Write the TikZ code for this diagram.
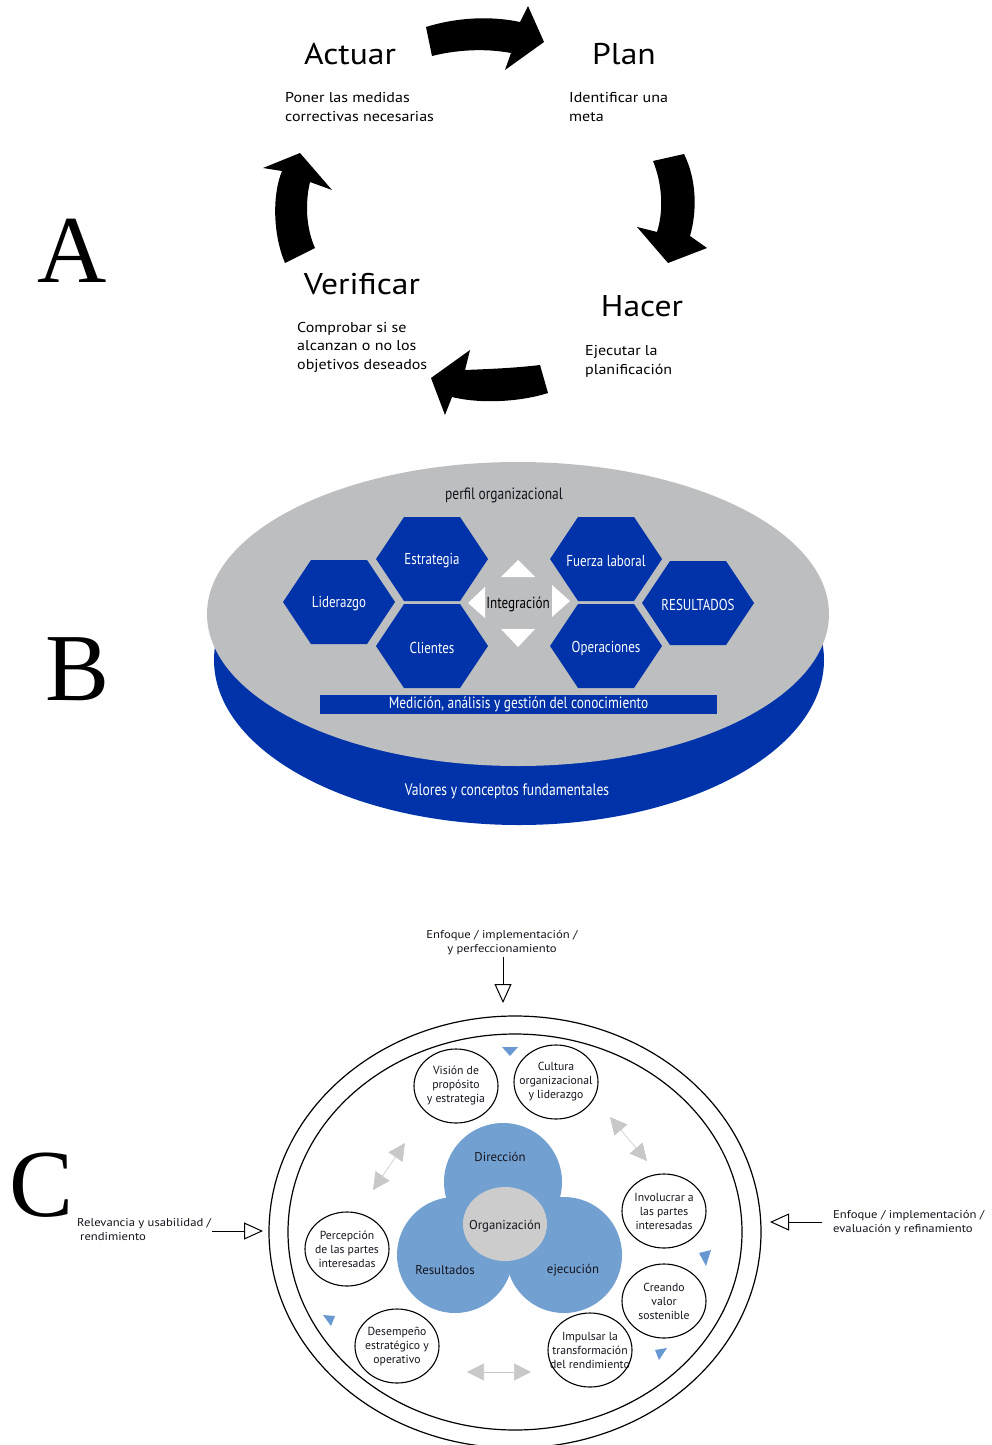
\documentclass[tikz,border=0pt]{standalone}
\usepackage{fontspec}
\setmainfont{PT Sans}
\newfontfamily\condfont{PT Sans}[FakeStretch=0.82]
\newfontfamily\wideface{PT Sans}[FakeStretch=1.12]
\newfontfamily\letterfont{Liberation Serif}
\usetikzlibrary{arrows.meta}

\definecolor{hexblue}{RGB}{0,51,170}
\definecolor{discgrey}{RGB}{189,190,192}
\definecolor{lobeblue}{RGB}{114,160,208}
\definecolor{coregrey}{RGB}{204,204,204}
\definecolor{flowgrey}{RGB}{200,200,200}
\definecolor{flowblue}{RGB}{104,152,210}
\definecolor{inktext}{RGB}{20,20,30}

% one blue hexagon cell with its caption
\newcommand\hexcell[4]{%
  \fill[hexblue,shift={(#2,#3)}] (-56,0) -- (-28,-42) -- (28,-42) -- (56,0) -- (28,42) -- (-28,42) -- cycle;
  \node[hextext] (#1) at (#2,#3+2) {#4};}
% one outlined topic bubble with its caption
\newcommand\bubblecell[4]{%
  \draw[line width=1.1pt] (#2,#3) ellipse [x radius=42pt, y radius=37pt];
  \node[bubble] (#1) at (#2,#3) {#4};}

\begin{document}
\begin{tikzpicture}[x=1pt,y=-1pt,
  letter/.style={font=\letterfont\fontsize{96}{96}\selectfont,anchor=base,inner sep=0},
  stage/.style={font=\wideface\fontsize{30}{30}\selectfont,anchor=base,inner sep=0},
  note/.style={font=\wideface\fontsize{14.3}{18.5}\selectfont,anchor=base west,align=left,inner sep=0},
  hextext/.style={font=\condfont\fontsize{15.8}{16}\selectfont,text=white,inner sep=0},
  bandtext/.style={font=\condfont\fontsize{16}{16}\selectfont,inner sep=0},
  ring/.style={draw,line width=1.2pt,fill=none},
  bubble/.style={inner sep=0,align=center,font=\fontsize{11.7}{14}\selectfont,text=inktext},
  lobetext/.style={font=\fontsize{12.8}{14}\selectfont,text=inktext,inner sep=0},
  sidenote/.style={font=\wideface\fontsize{11.3}{14}\selectfont,align=left,anchor=base west,inner sep=0,text=inktext},
  feed/.style={line width=1pt,-{Triangle[open,length=19pt,width=17pt]}},
  swap/.style={line width=0.6pt,{Triangle[length=17pt,width=17pt]}-{Triangle[length=17pt,width=17pt]},color=flowgrey},
  flowtip/.style={fill=flowblue}]
\useasboundingbox (0,0) rectangle (992,1445);

% ---------------- A : PDCA cycle ----------------
\node[letter] (labA) at (72,282) {A};

\node[stage] (act) at (350,64) {Actuar};
\node[stage] (plan) at (624,64) {Plan};
\node[stage] (ver) at (362,294) {Verificar};
\node[stage] (hac) at (642,316) {Hacer};

% multi-line notes are anchored on their last baseline
\node[note] (actn) at (285,121) {Poner las medidas\\correctivas necesarias};
\node[note] (plann) at (569,121) {Identificar una\\meta};
\node[note] (vern) at (297,369) {Comprobar si se\\alcanzan o no los\\objetivos deseados};
\node[note] (hacn) at (585,374) {Ejecutar la\\planificación};

% curved block arrows
\fill (426,27) .. controls (458,17) and (492,16) .. (520,22) -- (528,6) -- (544,42) -- (505,70)
  -- (511,53) .. controls (484,48) and (456,50) .. (432,56) -- cycle;
\fill (653,161) -- (684,154) .. controls (697,180) and (697,212) .. (690,236) -- (707,248)
  -- (668,263) -- (637,227) -- (657,232) .. controls (664,210) and (662,183) .. (653,161) -- cycle;
\fill (540,365) .. controls (515,368) and (490,369) .. (465,370) -- (470,350) -- (431,378)
  -- (445,415) -- (452,397) .. controls (480,404) and (520,402) .. (548,393) -- cycle;
\fill (285,263) -- (315,248) .. controls (306,228) and (305,203) .. (310,182) -- (332,190)
  -- (300,153) -- (263,168) -- (282,171) .. controls (272,195) and (273,235) .. (285,263) -- cycle;

% ---------------- B : excellence model disc ----------------
\node[letter] (labB) at (78,700) {B};

\fill[hexblue] (519,660) ellipse [x radius=305pt, y radius=165pt];
\fill[discgrey] (518,614) ellipse [x radius=311pt, y radius=152pt];

\node[bandtext,text=inktext,font=\condfont\fontsize{16.4}{16}\selectfont] (perfil) at (504,495) {perfil organizacional};

\hexcell{lid}{339}{602}{Liderazgo}
\hexcell{est}{432}{559}{Estrategia}
\hexcell{cli}{432}{646}{Clientes}
\hexcell{fue}{606}{559}{Fuerza laboral}
\hexcell{ope}{606}{646}{Operaciones}
\hexcell{res}{698}{603}{RESULTADOS}

% integration pointers
\fill[white] (518,560) -- (535,577) -- (501,577) -- cycle;
\fill[white] (501,629) -- (535,629) -- (518,647) -- cycle;
\fill[white] (468,603) -- (485,587) -- (485,618) -- cycle;
\fill[white] (552,585) -- (570,601) -- (552,617) -- cycle;
\node[bandtext,fill=discgrey,inner xsep=0.5pt,inner ysep=2pt] (integ) at (518,604) {Integración};

\node[fill=hexblue,minimum width=397pt,minimum height=19pt,inner sep=0,
  font=\condfont\fontsize{16.3}{16}\selectfont,text=white] (med) at (518.5,704.5)
  {\raisebox{-1.5pt}{Medición, análisis y gestión del conocimiento}};
\node[bandtext,text=white,font=\condfont\fontsize{16.6}{16}\selectfont] (val) at (507,791) {Valores y conceptos fundamentales};

% ---------------- C : organisational model ----------------
\node[letter] (labC) at (42,1216) {C};

\draw[ring] (515,1232) ellipse [x radius=246pt, y radius=216pt];
\draw[ring] (515,1232) ellipse [x radius=227pt, y radius=198pt];

% central lobes
\fill[lobeblue] (503,1182) circle [radius=59pt];
\fill[lobeblue] (455,1255) circle [radius=58pt];
\fill[lobeblue] (564,1255) circle [radius=58pt];
\fill[coregrey] (505,1224) ellipse [x radius=42pt, y radius=37pt];
\node[lobetext] (dir) at (500,1157) {Dirección};
\node[lobetext] (org) at (505,1226) {Organización};
\node[lobetext] (resu) at (445,1270) {Resultados};
\node[lobetext] (eje) at (573,1270) {ejecución};

% ring of topics
\bubblecell{vis}{456}{1086}{Visión de\\propósito\\y estrategia}
\bubblecell{cul}{556}{1082}{Cultura\\organizacional\\y liderazgo}
\bubblecell{inv}{664}{1211}{Involucrar a\\las partes\\interesadas}
\bubblecell{cre}{664}{1301}{Creando\\valor\\sostenible}
\bubblecell{imp}{590}{1350}{Impulsar la\\transformación\\del rendimiento}
\bubblecell{des}{397}{1346}{Desempeño\\estratégico y\\operativo}
\bubblecell{per}{347}{1249}{Percepción\\de las partes\\interesadas}

% exchange arrows
\coordinate (sA1) at (610,1117); \coordinate (sA2) at (647,1161);
\coordinate (sB1) at (405,1143); \coordinate (sB2) at (373,1190);
\coordinate (sC1) at (467,1372); \coordinate (sC2) at (531,1372);
\draw[swap] (sA1) -- (sA2);
\draw[swap] (sB1) -- (sB2);
\draw[swap] (sC1) -- (sC2);

% flow markers
\fill[flowtip] (502,1047) -- (518,1047) -- (510,1056) -- cycle;
\fill[flowtip] (699,1253) -- (711,1250) -- (706,1266) -- cycle;
\fill[flowtip] (655,1350) -- (667,1348) -- (659,1360) -- cycle;
\fill[flowtip] (323,1315) -- (335,1316) -- (331,1326) -- cycle;

% review inputs
\node[font=\wideface\fontsize{11.3}{14}\selectfont,align=center,anchor=base,inner sep=0,text=inktext] (topn)
  at (502,952) {Enfoque / implementación /\\y perfeccionamiento};
\node[sidenote] (leftn) at (77,1240) {Relevancia y usabilidad /\\\hspace*{3pt}rendimiento};
\node[sidenote] (rightn) at (833,1232) {Enfoque / implementación /\\evaluación y refinamiento};

\coordinate (tTop) at (503,957);  \coordinate (hTop) at (503,1003);
\coordinate (tLeft) at (212,1231); \coordinate (hLeft) at (263,1231);
\coordinate (tRight) at (822,1222); \coordinate (hRight) at (770,1222);
\draw[feed] (tTop) -- (hTop);
\draw[feed] (tLeft) -- (hLeft);
\draw[feed] (tRight) -- (hRight);
\end{tikzpicture}
\end{document}
